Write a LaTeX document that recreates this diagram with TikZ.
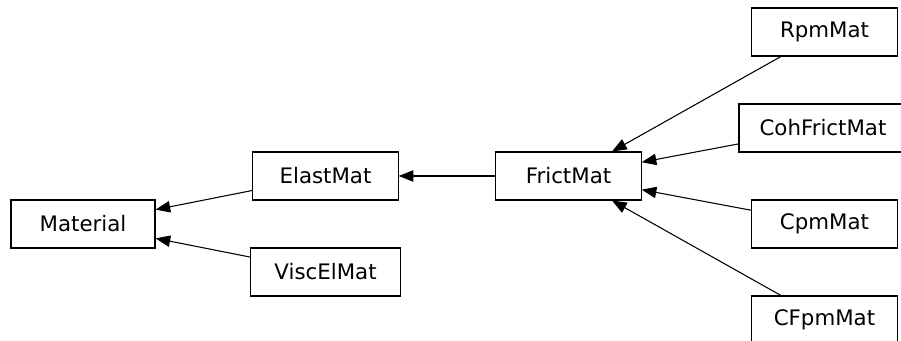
\documentclass[tikz,border=0pt]{standalone}
\usepackage{fontspec}
\setmainfont{DejaVu Sans}
\usetikzlibrary{arrows.meta}

\begin{document}
\begin{tikzpicture}[x=0.75pt, y=-0.75pt,
        cls/.style={draw, line width=0.8pt, minimum height=36pt, inner sep=0pt,
            font=\fontsize{16}{18}\selectfont},
        inherit/.style={line width=0.8pt, -{Triangle[length=11pt, width=8.5pt]}}]
    \useasboundingbox (0,0) rectangle (901,341);

    % Classes
    \node[cls, minimum width=108pt] (material) at (83,224) {Material};
    \node[cls, minimum width=109pt] (elastmat) at (325.5,176) {ElastMat};
    \node[cls, minimum width=112pt] (viscelmat) at (325.5,272) {ViscElMat};
    \node[cls, minimum width=109pt] (frictmat) at (568.5,176) {FrictMat};
    \node[cls, minimum width=109pt] (rpmmat) at (824.5,32) {RpmMat};
    \node[cls, minimum width=126pt] (cohfrictmat) at (823,128) {CohFrictMat};
    \node[cls, minimum width=109pt] (cpmmat) at (824.5,224) {CpmMat};
    \node[cls, minimum width=109pt] (cfpmmat) at (824.5,320) {CFpmMat};

    % Inheritance
    \draw[inherit] (elastmat) -- (material);
    \draw[inherit] (viscelmat) -- (material);
    \draw[inherit] (frictmat) -- (elastmat);
    \draw[inherit] (rpmmat) -- (frictmat);
    \draw[inherit] (cohfrictmat) -- (frictmat);
    \draw[inherit] (cpmmat) -- (frictmat);
    \draw[inherit] (cfpmmat) -- (frictmat);
\end{tikzpicture}
\end{document}
